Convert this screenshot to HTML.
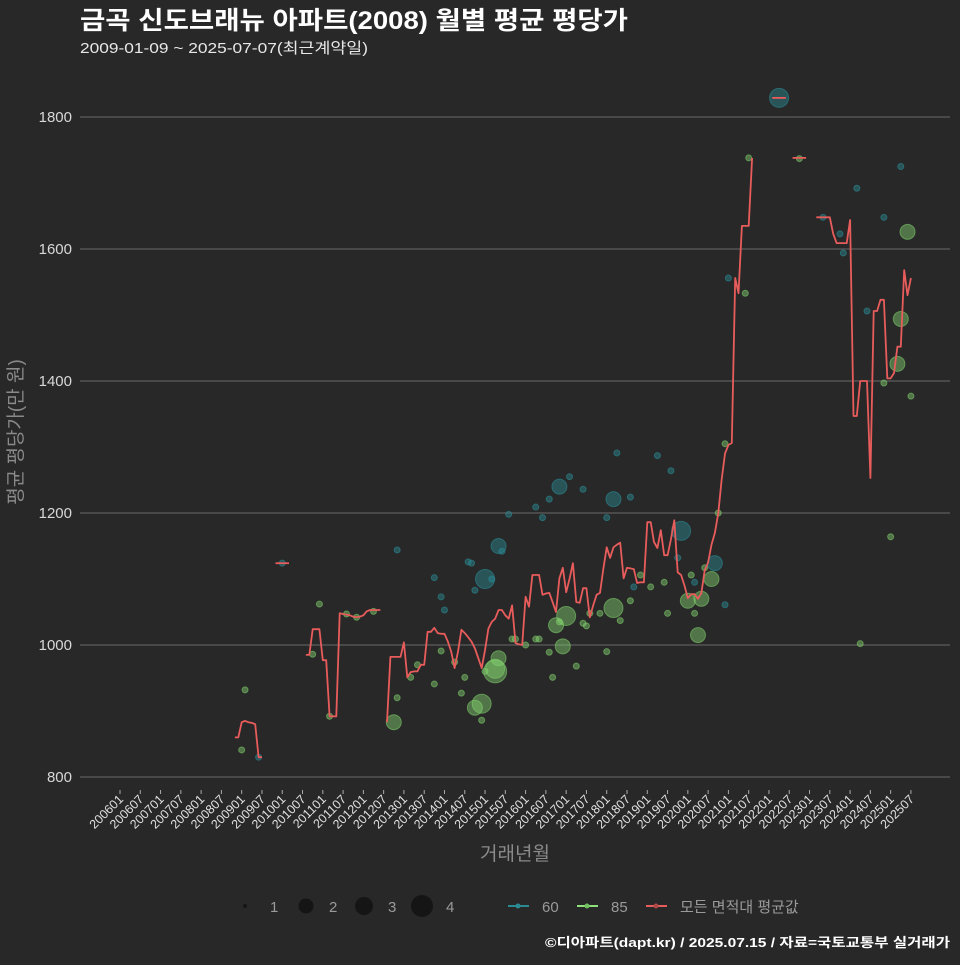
<!DOCTYPE html>
<html><head><meta charset="utf-8">
<style>
html,body{margin:0;padding:0;background:#282828;}
body{width:960px;height:960px;overflow:hidden;font-family:"Liberation Sans","Noto Sans CJK KR",sans-serif;}
svg text{font-family:"Liberation Sans","Noto Sans CJK KR",sans-serif;}
</style></head>
<body>
<svg id="chart" width="960" height="960" xmlns="http://www.w3.org/2000/svg">
<rect width="960" height="960" fill="#282828"/>
<text x="80" y="29" font-size="25" font-weight="bold" fill="#ffffff" textLength="548" lengthAdjust="spacingAndGlyphs">금곡 신도브래뉴 아파트(2008) 월별 평균 평당가</text>
<text x="80" y="53" font-size="15" fill="#e8e8e8" textLength="288" lengthAdjust="spacingAndGlyphs">2009-01-09 ~ 2025-07-07(최근계약일)</text>
<g id="grid"></g>
<g id="yticks"></g>
<g id="xticks"></g>
<g id="points"></g>
<g id="lines"></g>
<text x="515" y="860" font-size="19" fill="#8a8a8a" text-anchor="middle">거래년월</text>
<text transform="translate(22,432) rotate(-90)" font-size="19" fill="#8a8a8a" text-anchor="middle">평균 평당가(만 원)</text>
<g>
  <g><circle cx="245" cy="906" r="2" fill="#151515"/><text x="270" y="912" font-size="15" fill="#9a9a9a">1</text></g>
  <g><circle cx="306" cy="906" r="7.5" fill="#151515"/><text x="329" y="912" font-size="15" fill="#9a9a9a">2</text></g>
  <g><circle cx="364" cy="906" r="9" fill="#151515"/><text x="388" y="912" font-size="15" fill="#9a9a9a">3</text></g>
  <g><circle cx="422" cy="906" r="11" fill="#151515"/><text x="446" y="912" font-size="15" fill="#9a9a9a">4</text></g>
  <g><line x1="508" y1="906" x2="529" y2="906" stroke="#2a8b94" stroke-width="2"/><circle cx="518" cy="906" r="2.5" fill="#2a8b94"/><text x="542" y="912" font-size="15" fill="#9a9a9a">60</text></g>
  <g><line x1="577" y1="906" x2="598" y2="906" stroke="#8ee07a" stroke-width="2"/><circle cx="587" cy="906" r="2.5" fill="#6fbf5f"/><text x="611" y="912" font-size="15" fill="#9a9a9a">85</text></g>
  <g><line x1="646" y1="906" x2="667" y2="906" stroke="#e85c5c" stroke-width="2"/><circle cx="656" cy="906" r="2.5" fill="#b04848"/><text x="680" y="912" font-size="15" fill="#9a9a9a">모든 면적대 평균값</text></g>
</g>
<text x="950" y="947" font-size="13" font-weight="bold" fill="#ffffff" text-anchor="end" textLength="405" lengthAdjust="spacingAndGlyphs">©디아파트(dapt.kr) / 2025.07.15 / 자료=국토교통부 실거래가</text>
</svg>
<script>
// month index from 2006-01
const segMonths = [
 [34,35,36,37,38,39,40,41,42],
 [46,50],
 [55,56,57,58,59,60,61,62,63,64,65,66,67,68,69,70,71,72,73,74,75,76,77],
 [79,80,81,82,83,84,85,86,87,88,89,90,91,92,93,94,95,96,97,98,99,100,101,102,103,104,105,106,107,108,109,110,111,112,113,114,115,116,117,118,119,120,121,122,123,124,125,126,127,128,129,130,131,132,133,134,135,136,137,138,139,140,141,142,143,144,145,146,147,148,149,150,151,152,153,154,155,156,157,158,159,160,161,162,163,164,165,166,167,168,169,170,171,172,173,174,175,176,177,178,179,180,181,182,183,184,185,186,187,188],
 [193,197],
 [199,203],
 [206,207,208,209,210,211,212,213,214,215,216,217,218,219,220,221,222,223,224,225,226,227,228,229,230,231,232,233,234]
];
const segValues = [
 [860,860,883,885,883,882,880,830,830],
 [1124,1124],
 [985,985,1024,1024,1024,977,977,892,892,892,1048,1047,1046,1045,1043,1042,1043,1045,1051,1053,1053,1053,1053],
 [883,982,982,982,982,1004,951,959,960,960,970,970,1020,1020,1026,1018,1017,1017,1005,990,965,990,1023,1018,1012,1005,995,980,965,992,1025,1035,1040,1053,1053,1045,1040,1060,1003,1001,1000,1073,1058,1106,1106,1106,1076,1078,1079,1065,1050,1101,1117,1080,1100,1124,1065,1064,1086,1086,1042,1060,1076,1079,1115,1148,1132,1148,1152,1155,1101,1117,1116,1115,1094,1095,1095,1186,1186,1156,1147,1174,1136,1136,1160,1189,1110,1106,1090,1071,1077,1077,1070,1079,1113,1125,1152,1170,1200,1250,1290,1303,1306,1556,1533,1635,1635,1635,1738],
 [1829,1829],
 [1738,1738],
 [1648,1648,1648,1648,1648,1623,1609,1609,1609,1609,1644,1347,1347,1400,1400,1400,1253,1506,1506,1523,1523,1404,1404,1412,1452,1452,1568,1530,1556,1503]
];
const ptMonths = [36,37,41,48,57,59,62,67,70,75,81,82,82,86,88,93,95,93,96,95,99,101,102,103,104,105,105,107,108,107,108,110,111,111,112,112,113,115,116,117,120,123,124,127,128,129,130,131,132,135,137,138,139,142,144,146,148,151,152,154,157,161,162,168,169,170,170,171,172,173,175,176,177,179,163,159,147,151,146,144,137,133,130,127,125,123,166,165,179,180,185,186,195,201,208,213,214,218,219,221,226,226,228,231,230,231,233,234];
const ptValues = [841,932,830,1124,986,1062,892,1047,1042,1051,883,920,1144,951,970,941,1073,1102,1053,991,974,927,951,1126,1124,1083,905,886,1100,911,960,1100,964,960,1150,980,1142,1198,1009,1009,1000,1009,1009,989,951,1030,1035,998,1044,968,1033,1029,1048,1048,990,1056,1037,1067,1088,1106,1088,1095,1048,1067,1106,1095,1048,1015,1070,1117,1100,1124,1200,1061,1264,1287,1291,1224,1221,1193,1236,1255,1240,1221,1193,1209,1173,1132,1305,1556,1533,1738,1829,1737,1648,1623,1594,1692,1002,1506,1397,1648,1164,1725,1426,1494,1626,1377];
const ptArea = [85,85,60,60,85,85,85,85,85,85,85,85,60,85,85,85,60,60,60,85,85,85,85,60,60,60,85,85,60,85,85,60,85,85,60,85,60,60,85,85,85,85,85,85,85,85,85,85,85,85,85,85,85,85,85,85,85,85,60,85,85,85,85,85,85,60,85,85,85,85,85,60,85,60,60,60,60,60,60,60,60,60,60,60,60,60,60,60,85,60,85,85,60,85,60,60,60,60,85,60,85,60,85,60,85,85,85,85];
const ptCount = [1,1,1,1,1,1,1,1,1,1,2,1,1,1,1,1,1,1,1,1,1,1,1,1,1,1,2,1,3,3,1,1,3,4,2,2,1,1,1,1,1,1,1,1,1,2,1,2,3,1,1,1,1,1,1,3,1,1,1,1,1,1,1,2,1,1,1,2,2,1,2,2,1,1,1,1,1,1,2,1,1,1,2,1,1,1,3,1,1,1,1,1,3,1,1,1,1,1,1,1,1,1,1,1,2,2,2,1];
const yTicks = [800,1000,1200,1400,1600,1800];
const xTickMonths = [];
for (let i = 0; i <= 234; i += 6) xTickMonths.push(i);

const NS = "http://www.w3.org/2000/svg";
const xS = m => 120 + m * 3.38;
const yS = v => 777 - (v - 800) * 0.66;
function mk(tag, attrs, parent) {
  const e = document.createElementNS(NS, tag);
  for (const k in attrs) e.setAttribute(k, attrs[k]);
  parent.appendChild(e);
  return e;
}
const grid = document.getElementById('grid');
const yt = document.getElementById('yticks');
yTicks.forEach(v => {
  const l = mk('line', {x1: 80, x2: 950, y1: yS(v), y2: yS(v), stroke: '#6a6a6a', 'stroke-width': 1}, grid);
  
  
  const t = mk('text', {x: 72, y: yS(v) + 5, 'font-size': 15, fill: '#d8d8d8', 'text-anchor': 'end'}, yt);
  t.textContent = v;
  
  
});
const xt = document.getElementById('xticks');
xTickMonths.forEach(m => {
  const x = xS(m);
  const tk = mk('line', {x1: x, x2: x, y1: 790, y2: 794, stroke: '#aaaaaa'}, xt);
  
  
  const yr = 2006 + Math.floor(m / 12), mo = m % 12 + 1;
  const t = mk('text', {transform: `translate(${x + 4},${800}) rotate(-45)`, 'font-size': 12.5, fill: '#e0e0e0', 'text-anchor': 'end'}, xt);
  t.textContent = yr + (mo < 10 ? '0' : '') + mo;
  
  
});
const rMap = [0, 3, 7.5, 9.5, 11.5];
const pg = document.getElementById('points');
ptMonths.forEach((m, i) => {
  const teal = ptArea[i] === 60;
  const c = mk('circle', {cx: xS(m), cy: yS(ptValues[i]), r: rMap[ptCount[i]],
    fill: teal ? 'rgba(42,139,148,0.45)' : 'rgba(130,210,110,0.45)',
    stroke: teal ? 'rgba(42,139,148,0.6)' : 'rgba(130,210,110,0.55)', 'stroke-width': 1}, pg);
  
  
});
const lg = document.getElementById('lines');
segMonths.forEach((ms, s) => {
  const d = ms.map((m, i) => (i ? 'L' : 'M') + xS(m).toFixed(1) + ',' + yS(segValues[s][i]).toFixed(1)).join(' ');
  const p = mk('path', {d: d, fill: 'none', stroke: '#e85c5c', 'stroke-width': 1.8, 'stroke-linejoin': 'round'}, lg);
  
  
});
</script>
</body></html>
